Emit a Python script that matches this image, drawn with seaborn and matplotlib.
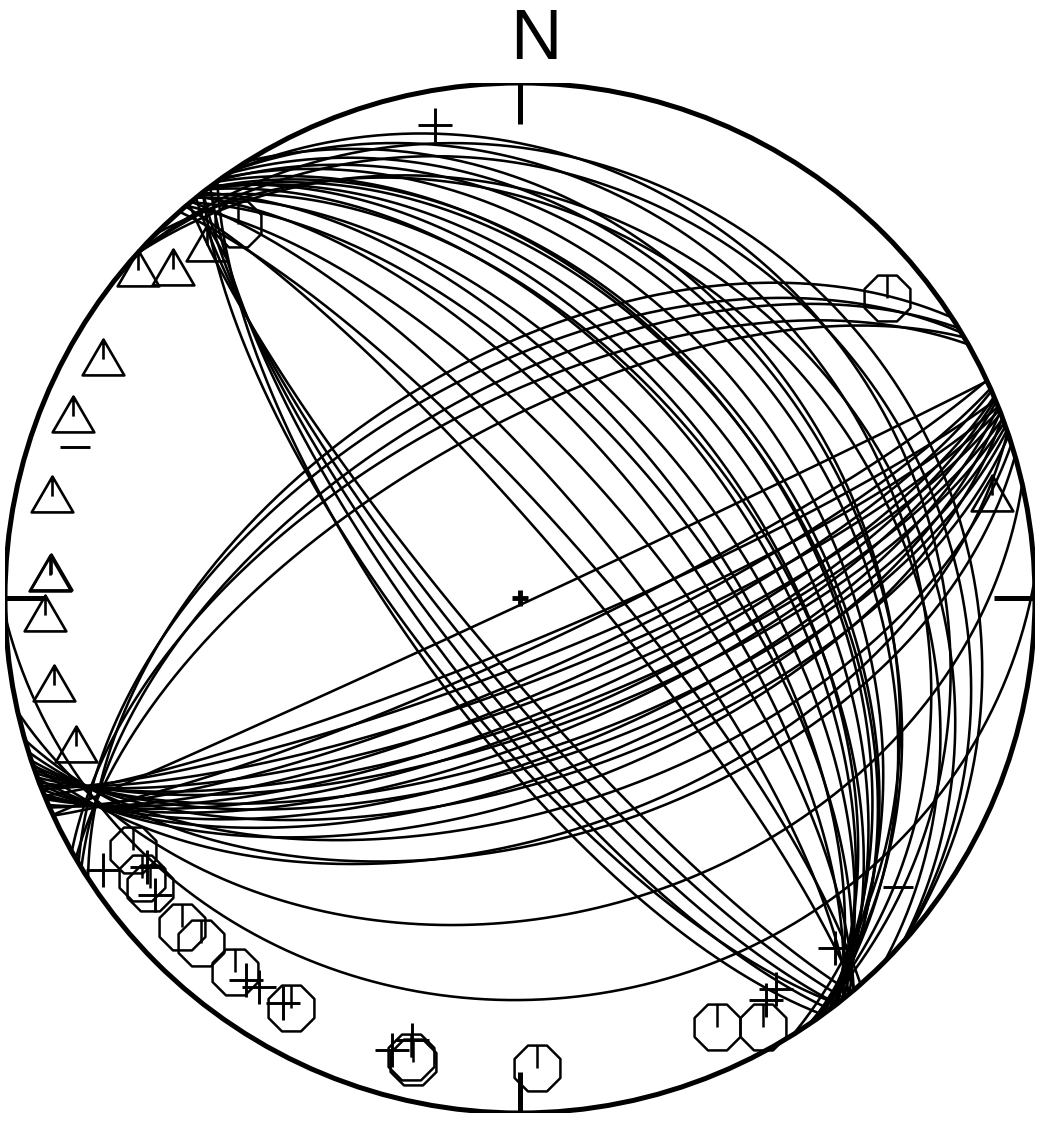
import numpy as np
import pandas as pd
import seaborn as sns
import matplotlib.pyplot as plt
from matplotlib.path import Path
from matplotlib.patches import Circle

# planes as dip direction / dip (degrees), lower hemisphere equal-area net
# family A: NW-SE strike, dipping NE
a_dipdir = [56, 42, 56, 42, 58, 42, 45, 55.5, 54.2, 54.6, 52.8, 53.9, 52.4, 52.6, 53.1, 51.3,
            52.5, 51.0, 51.9, 50.2, 51.2, 49.6, 50.3, 48.6, 49.5]
a_dip = [22, 18, 27, 22, 34, 28, 31, 35, 37, 41, 44, 45, 45, 48, 51, 52,
         53, 57, 60, 62, 65, 69, 74, 78, 81]
# family A2: NW-SE strike, steep SW dip
a2_dipdir = [230, 231, 232, 233, 232, 234]
a2_dip = [81, 79, 77, 75, 73, 72]
# family B: ENE-WSW strike, dipping SSE
b_dipdir = [155.1, 157.4, 155.0, 158.2, 156.0, 158.6, 156.3, 159.0, 157.0, 159.6, 157.3, 160.1,
            157.6, 160.5, 158.2, 161.0, 158.8, 161.6, 159.5, 162.6, 161.2, 164.0, 167.2, 177.9]
b_dip = [89, 83, 82, 80, 78, 77, 75, 74, 72, 71, 70, 69,
         68, 66, 65, 64, 62, 61, 59, 56, 52, 51, 38, 23]
# family B2: ENE-WSW strike, dipping NNW
c_dipdir = [327.0, 329.0, 328.4, 330.5, 329.6]
c_dip = [53, 55, 58, 60, 64]

# point data as trend / plunge
tri_trend = [310.8, 313.6, 318.6, 300.0, 292.4, 282.5, 273.2, 273.0, 268.2, 259.7, 251.8, 77.5]
tri_plunge = [2.3, 7.7, 9.0, 7.2, 6.8, 7.7, 9.7, 9.5, 8.5, 8.8, 10.1, 6.8]
oct_trend = [323.0, 50.7, 236.9, 233.5, 231.9, 225.8, 222.8, 217.3, 209.2, 193.4, 193.0, 177.9, 155.4, 150.5]
oct_plunge = [9.9, 8.8, 11.3, 9.5, 9.5, 9.2, 9.6, 9.5, 9.7, 9.2, 8.3, 9.6, 9.2, 4.8]
cross_trend = [349.8, 236.9, 234.2, 230.9, 215.6, 213.8, 210.4, 195.8, 193.7, 146.8, 148.5, 138.0]
cross_plunge = [7.4, 3.7, 11.7, 9.5, 9.6, 9.9, 9.8, 9.6, 12.7, 10.1, 9.3, 9.4]
dash_trend = [288.7, 127.4]
dash_plunge = [9.6, 8.4]


def project(trend, plunge):
    trend = np.radians(trend)
    plunge = np.radians(plunge)
    r = np.sqrt(2) * np.sin((np.pi / 2 - plunge) / 2)
    return r * np.sin(trend), r * np.cos(trend)


def great_circle(dipdir, dip, n=240):
    dd = np.radians(dipdir)
    dp = np.radians(dip)
    st = dd - np.pi / 2
    s = np.array([np.sin(st), np.cos(st), 0.0])
    d = np.array([np.sin(dd) * np.cos(dp), np.cos(dd) * np.cos(dp), -np.sin(dp)])
    t = np.linspace(0, np.pi, n)
    v = np.outer(np.cos(t), s) + np.outer(np.sin(t), d)
    trend = np.degrees(np.arctan2(v[:, 0], v[:, 1]))
    plunge = np.degrees(np.arcsin(np.clip(-v[:, 2], -1, 1)))
    return project(trend, plunge)


rows = []
k = 0
for dds, dips in [(a_dipdir, a_dip), (a2_dipdir, a2_dip), (b_dipdir, b_dip), (c_dipdir, c_dip)]:
    for dd, dp in zip(dds, dips):
        x, y = great_circle(dd, dp)
        rows.append(pd.DataFrame({'x': x, 'y': y, 'plane': k}))
        k += 1
arcs = pd.concat(rows, ignore_index=True)

sns.set_theme(style="white")
plt.rcParams['font.family'] = ['Liberation Sans', 'DejaVu Sans']

fig = plt.figure(figsize=(10.46, 11.21), dpi=100)
ax = fig.add_axes([5 / 1046, 8 / 1121, 1030 / 1046, 1030 / 1121])
ax.set_xlim(-1, 1)
ax.set_ylim(-1, 1)
ax.set_aspect('equal')
ax.axis('off')

sns.lineplot(data=arcs, x='x', y='y', units='plane', estimator=None, sort=False,
             color='black', linewidth=1.85, ax=ax, legend=False)

ax.add_patch(Circle((0, 0), 1, fill=False, lw=3.6, color='black', zorder=5))
tl = 0.08
for x0, y0, x1, y1 in [(0, 1, 0, 1 - tl), (1, 0, 1 - tl, 0), (0, -1, 0, -1 + tl), (-1, 0, -1 + tl, 0)]:
    ax.plot([x0, x1], [y0, y1], color='black', lw=3.6, solid_capstyle='butt', zorder=5)
ax.text(0.03, 1.047, 'N', ha='center', va='baseline', fontsize=51, color='black', clip_on=False)
ax.plot([0], [0], marker='+', ms=11, mew=3.5, color='black', zorder=6)

tri_path = Path([(-0.5, -0.43), (0.5, -0.43), (0, 0.43), (-0.5, -0.43), (0, 0.43), (0, -0.05)],
                [Path.MOVETO, Path.LINETO, Path.LINETO, Path.CLOSEPOLY, Path.MOVETO, Path.LINETO])
ang = np.radians(22.5 + 45 * np.arange(8))
rho = 0.5 / np.cos(np.radians(22.5))
oct_verts = [(rho * np.cos(a), rho * np.sin(a)) for a in ang] + [(0, 0), (0, 0.5), (0, 0)]
oct_codes = [Path.MOVETO] + [Path.LINETO] * 7 + [Path.CLOSEPOLY, Path.MOVETO, Path.LINETO]
oct_path = Path(oct_verts, oct_codes)
dash_path = Path([(-0.5, 0), (0.5, 0)], [Path.MOVETO, Path.LINETO])

tx, ty = project(tri_trend, tri_plunge)
ax.plot(tx, ty, ls='none', marker=tri_path, ms=30, mew=1.9, mfc='none', mec='black', zorder=6)
ox, oy = project(oct_trend, oct_plunge)
ax.plot(ox, oy, ls='none', marker=oct_path, ms=33, mew=1.8, mfc='none', mec='black', zorder=6)
cx, cy = project(cross_trend, cross_plunge)
ax.plot(cx, cy, ls='none', marker='+', ms=25, mew=2.1, color='black', zorder=6)
dx, dy = project(dash_trend, dash_plunge)
ax.plot(dx, dy, ls='none', marker=dash_path, ms=21, mew=2.1, color='black', zorder=6)

fig.savefig('out.png', dpi=100, facecolor='white')
